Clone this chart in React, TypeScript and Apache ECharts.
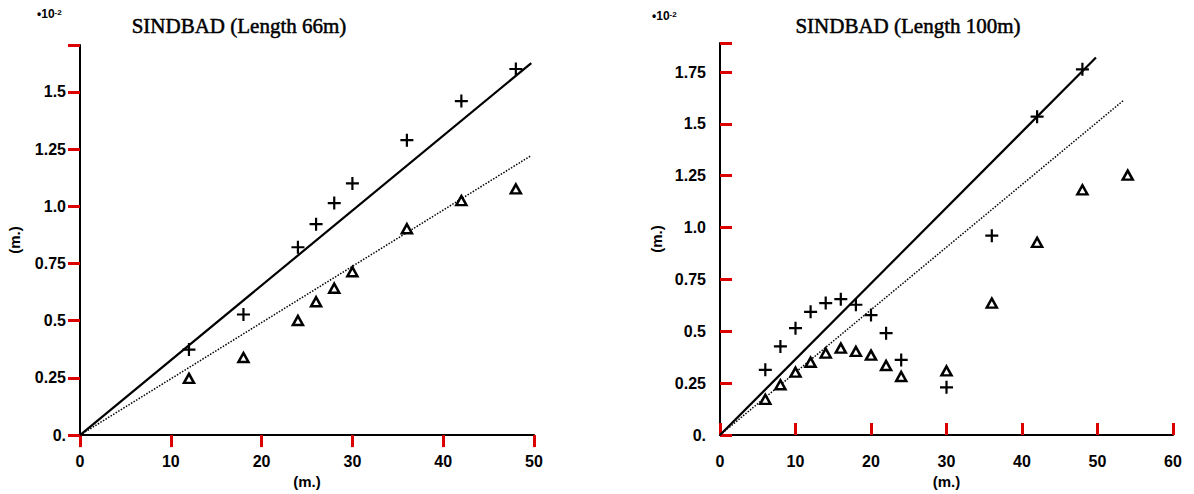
import { useEffect, useRef } from 'react';
import * as echarts from 'echarts';

// ---- Data ----
const titleA = 'SINDBAD (Length 66m)';
const titleB = 'SINDBAD (Length 100m)';
const scaleNote = '10';
const scaleExp = '-2';
const axisUnit = '(m.)';

const yTicksA = [0, 0.25, 0.5, 0.75, 1.0, 1.25, 1.5];
const yTicksB = [0, 0.25, 0.5, 0.75, 1.0, 1.25, 1.5, 1.75];

// 66 m
const xA = [12, 18, 24, 26, 28, 30, 36, 42, 48];
const plusA = [0.374, 0.527, 0.821, 0.922, 1.014, 1.1, 1.289, 1.46, 1.6];
const triA = [0.248, 0.339, 0.501, 0.583, 0.642, 0.714, 0.902, 1.025, 1.076];
const solidAX = [0, 49.7];
const solidAY = [0, 1.626];
const dottedAX = [0, 49.7];
const dottedAY = [0, 1.222];

// 100 m
const plusBX = [6, 8, 10, 12, 14, 16, 18, 20, 22, 24, 30, 36, 42, 48];
const plusBY = [0.314, 0.427, 0.515, 0.594, 0.636, 0.655, 0.628, 0.578, 0.491, 0.362, 0.23, 0.961, 1.535, 1.763];
const triBX = [6, 8, 10, 12, 14, 16, 18, 20, 22, 24, 30, 36, 42, 48, 54];
const triBY = [0.172, 0.242, 0.303, 0.351, 0.395, 0.419, 0.403, 0.385, 0.335, 0.282, 0.309, 0.636, 0.929, 1.182, 1.253];
const solidBX = [0, 49.8];
const solidBY = [0, 1.82];
const dottedBX = [0, 53.5];
const dottedBY = [0, 1.615];

const zip = (xs: number[], ys: number[]) => xs.map((x, i) => [x, ys[i]]);

const PLUS = 'path://M0,5.4H13V7.6H0Z M5.4,0H7.6V13H5.4Z';
const labelFont = { fontFamily: 'Liberation Sans', fontSize: 16, fontWeight: 'bold', color: '#000' };
const fmtY = (v: number) => (v === 0 ? '0.' : v === 1 ? '1.0' : String(v));

function makeX(idx: number, max: number, inside: boolean) {
  return {
    type: 'value', gridIndex: idx, min: 0, max, interval: 10,
    name: axisUnit, nameLocation: 'middle', nameGap: 34,
    nameTextStyle: { ...labelFont, fontSize: 15 },
    axisLine: { show: true, lineStyle: { color: '#000', width: 2 } },
    axisTick: { show: true, inside, length: 12, lineStyle: { color: '#d00', width: 3 } },
    axisLabel: { ...labelFont, margin: 18 },
    splitLine: { show: false },
  };
}
function makeY(idx: number, max: number, ticks: number[], gap: number, inside: boolean) {
  return {
    type: 'value', gridIndex: idx, min: 0, max, interval: 0.25,
    name: axisUnit, nameLocation: 'middle', nameRotate: 90, nameGap: gap,
    nameTextStyle: { ...labelFont, fontSize: 15 },
    axisLine: { show: true, lineStyle: { color: '#000', width: 2 } },
    axisTick: { show: true, inside, length: 12, lineStyle: { color: '#d00', width: 3 } },
    axisLabel: { ...labelFont, margin: 14, customValues: ticks, formatter: fmtY },
    splitLine: { show: false },
  };
}

const scatterPlus = (x: number, data: number[][]) => ({
  type: 'scatter', xAxisIndex: x, yAxisIndex: x, data, symbol: PLUS, symbolSize: 13,
  itemStyle: { color: '#000', opacity: 1 }, silent: true,
});
const scatterTri = (x: number, data: number[][]) => ({
  type: 'scatter', xAxisIndex: x, yAxisIndex: x, data, symbol: 'triangle', symbolSize: [10, 9],
  itemStyle: { color: '#fff', borderColor: '#000', borderWidth: 2.5, opacity: 1 }, silent: true,
});
const line = (x: number, data: number[][], dotted: boolean) => ({
  type: 'line', xAxisIndex: x, yAxisIndex: x, data, showSymbol: false, symbol: 'none',
  lineStyle: dotted ? { color: '#000', width: 1.5, type: [1.5, 1.5] } : { color: '#000', width: 2.2 },
  silent: true, z: 1,
});

const superLabel = (x: number, y: number) => ({
  type: 'text', x, y,
  style: {
    text: `{a|•${scaleNote}}{b|${scaleExp}}`,
    rich: {
      a: { fontFamily: 'Liberation Sans', fontSize: 12, fontWeight: 'bold', fill: '#000', verticalAlign: 'bottom' },
      b: { fontFamily: 'Liberation Sans', fontSize: 8, fill: '#000', verticalAlign: 'top', fontWeight: 'bold' },
    },
  },
});
const title = (x: number, text: string) => ({
  type: 'text', x, y: 26,
  style: {
    text, fontFamily: 'Liberation Serif', fontSize: 21, fill: '#000', stroke: '#000', lineWidth: 0.5,
    textAlign: 'center', textVerticalAlign: 'middle',
  },
});

export default function App() {
  const ref = useRef<HTMLDivElement>(null);
  useEffect(() => {
    if (!ref.current) return;
    const chart = echarts.init(ref.current, null, { renderer: 'svg' });
    chart.setOption({
      animation: false,
      backgroundColor: '#fff',
      grid: [
        { left: 80, top: 45, width: 454, height: 394 },
        { left: 720, top: 43, width: 453, height: 392 },
      ],
      xAxis: [makeX(0, 50, false), makeX(1, 60, true)],
      yAxis: [makeY(0, 1.705, yTicksA, 58, false), makeY(1, 1.89, yTicksB, 56, true)],
      series: [
        line(0, zip(solidAX, solidAY), false),
        line(0, zip(dottedAX, dottedAY), true),
        scatterPlus(0, zip(xA, plusA)),
        scatterTri(0, zip(xA, triA)),
        line(1, zip(solidBX, solidBY), false),
        line(1, zip(dottedBX, dottedBY), true),
        scatterPlus(1, zip(plusBX, plusBY)),
        scatterTri(1, zip(triBX, triBY)),
      ],
      graphic: [
        superLabel(37, 8),
        superLabel(652, 10),
        title(239, titleA),
        title(908, titleB),
      ],
    });
    return () => chart.dispose();
  }, []);
  return <div ref={ref} style={{ position: 'fixed', left: 0, top: 0, width: 1194, height: 494 }} />;
}
